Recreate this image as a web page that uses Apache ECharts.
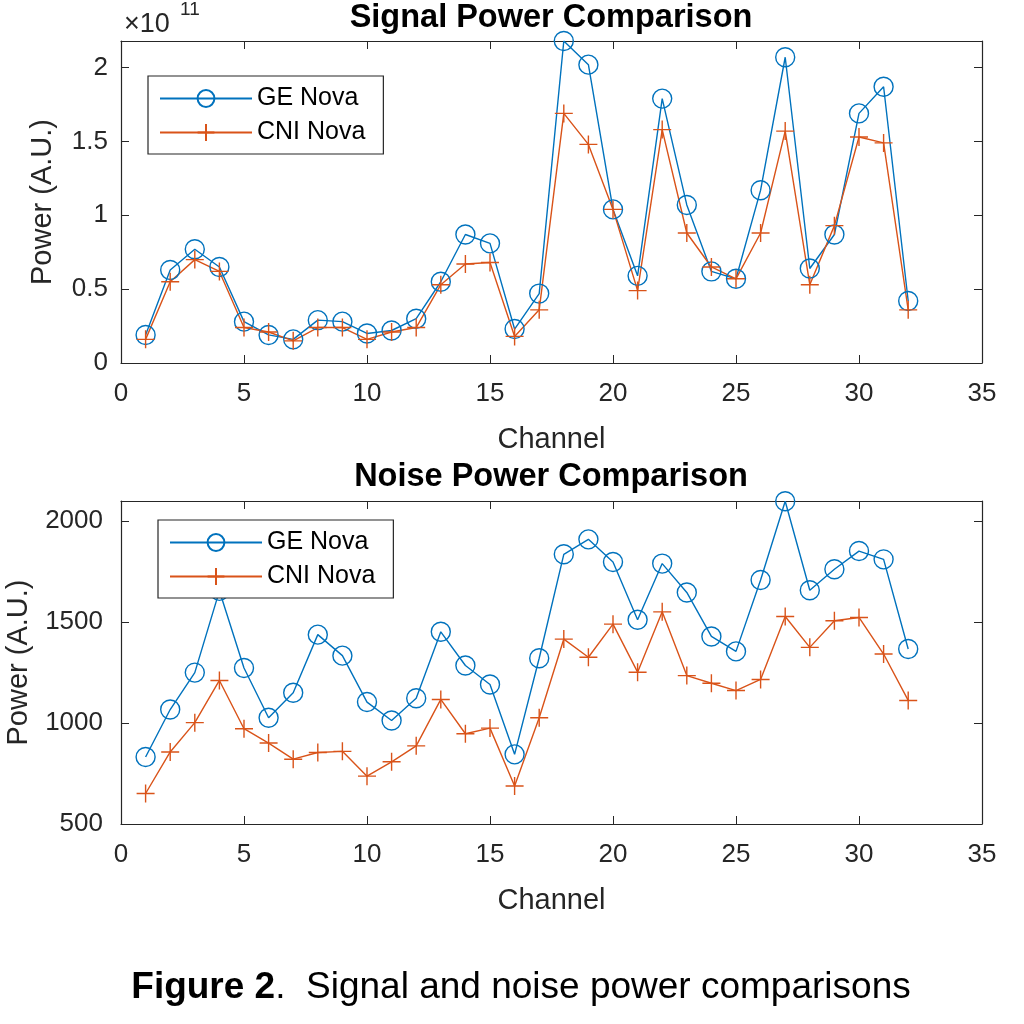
<!DOCTYPE html>
<html>
<head>
<meta charset="utf-8">
<script src="https://cdn.jsdelivr.net/npm/echarts@6/dist/echarts.min.js"></script>
<style>html,body{margin:0;padding:0;background:#fff;}#c{width:1024px;height:1024px;}</style>
</head>
<body>
<div id="c"></div>
<script>
// Channel numbers
const channels = [1,2,3,4,5,6,7,8,9,10,11,12,13,14,15,16,17,18,19,20,21,22,23,24,25,26,27,28,29,30,31,32];
// Signal power (A.U.), in units of 1e11
const signalScale = 1e11;
const signalGE  = [0.19,0.63,0.77,0.65,0.28,0.19,0.16,0.29,0.28,0.20,0.22,0.30,0.55,0.87,0.81,0.23,0.47,2.18,2.02,1.04,0.59,1.79,1.07,0.62,0.57,1.17,2.07,0.64,0.87,1.69,1.87,0.42];
const signalCNI = [0.16,0.55,0.70,0.62,0.24,0.21,0.15,0.24,0.24,0.16,0.21,0.24,0.53,0.67,0.68,0.18,0.36,1.69,1.48,1.04,0.49,1.58,0.88,0.65,0.57,0.88,1.57,0.53,0.93,1.53,1.49,0.36];
// Noise power (A.U.)
const noiseGE  = [832,1067,1250,1655,1273,1026,1150,1438,1334,1104,1013,1123,1452,1285,1191,845,1321,1836,1910,1798,1512,1790,1647,1429,1355,1709,2099,1658,1762,1852,1811,1367];
const noiseCNI = [651,857,1002,1211,972,901,821,854,860,737,808,887,1117,947,975,688,1026,1416,1326,1490,1252,1551,1235,1197,1161,1216,1528,1375,1507,1523,1342,1112];
const seriesNames = ['GE Nova', 'CNI Nova'];
const titles = ['Signal Power Comparison', 'Noise Power Comparison'];
const xLabel = 'Channel';
const yLabel = 'Power (A.U.)';

const FONT = "'Liberation Sans', Arial, Helvetica, sans-serif";
const BLUE = '#0072BD', ORANGE = '#D95319', AX = '#262626';
const plusPath = 'path://M5,0L5,10M0,5L10,5';

function pairs(xs, ys, k) { return xs.map((x, i) => [x, ys[i] * (k || 1)]); }

function tick() {
  return { show: true, inside: true, length: 8, lineStyle: { color: AX, width: 1 } };
}
function xAxes(gi) {
  const base = { gridIndex: gi, type: 'value', min: 0, max: 35, interval: 5,
    axisLine: { show: true, onZero: false, lineStyle: { color: AX, width: 1.2 } },
    splitLine: { show: false } };
  return [
    Object.assign({}, base, { position: 'bottom', axisTick: tick(), name: xLabel, nameLocation: 'middle', nameGap: 62,
      nameTextStyle: { fontFamily: FONT, fontSize: 29, color: AX },
      axisLabel: { fontFamily: FONT, fontSize: 26, color: AX, margin: 18 } }),
    Object.assign({}, base, { position: 'top', axisTick: tick(), axisLabel: { show: false } })
  ];
}
function yAxes(gi, min, max, interval, fmt, nameGap, margin) {
  const base = { gridIndex: gi, type: 'value', min: min, max: max, interval: interval,
    axisLine: { show: true, onZero: false, lineStyle: { color: AX, width: 1.2 } },
    splitLine: { show: false } };
  return [
    Object.assign({}, base, { position: 'left', axisTick: tick(), name: yLabel, nameLocation: 'middle', nameGap: nameGap, nameRotate: 90,
      nameTextStyle: { fontFamily: FONT, fontSize: 29, color: AX },
      axisLabel: { fontFamily: FONT, fontSize: 26, color: AX, margin: margin, showMaxLabel: false, formatter: fmt } }),
    Object.assign({}, base, { position: 'right', axisTick: tick(), axisLabel: { show: false } })
  ];
}
function lineSeries(name, data, xi, yi, color, sym, size) {
  return { name: name, type: 'line', xAxisIndex: xi, yAxisIndex: yi, data: data,
    symbol: sym, symbolSize: size, showSymbol: true, animation: false,
    lineStyle: { color: color, width: 1.4 },
    itemStyle: { color: 'none', borderColor: color, borderWidth: 1.4 },
    emphasis: { disabled: true } };
}
function legend(left, top) {
  return { left: left, top: top, orient: 'vertical', data: seriesNames,
    itemWidth: 92, itemHeight: 21, itemGap: 9,
    padding: [10, 18, 9, 11], borderColor: AX, borderWidth: 1.2, backgroundColor: '#fff',
    textStyle: { fontFamily: FONT, fontSize: 25, color: '#000' }, selectedMode: false };
}

const chart = echarts.init(document.getElementById('c'), null, { renderer: 'canvas' });
chart.setOption({
  backgroundColor: '#fff',
  animation: false,
  title: [
    { text: titles[0], left: 551, top: 2, textAlign: 'center', padding: 0,
      textStyle: { fontFamily: FONT, fontSize: 32.5, fontWeight: 'bold', color: '#000' } },
    { text: titles[1], left: 551, top: 461, textAlign: 'center', padding: 0,
      textStyle: { fontFamily: FONT, fontSize: 32.5, fontWeight: 'bold', color: '#000' } },
    { text: '{b|Figure 2}.  Signal and noise power comparisons', left: 521, top: 969, textAlign: 'center', padding: 0,
      textStyle: { fontFamily: FONT, fontSize: 37, fontWeight: 'normal', color: '#000',
        rich: { b: { fontFamily: FONT, fontSize: 37, fontWeight: 'bold', color: '#000' } } } }
  ],
  grid: [
    { left: 121, right: 42, top: 41, height: 322, containLabel: false, outerBoundsMode: 'none' },
    { left: 121, right: 42, top: 501, height: 323, containLabel: false, outerBoundsMode: 'none' }
  ],
  xAxis: xAxes(0).concat(xAxes(1)),
  yAxis: yAxes(0, 0, 2.18e11, 0.5e11, v => String(+(v / signalScale).toFixed(2)), 64, 13)
    .concat(yAxes(1, 500, 2100, 500, v => String(v), 88, 18)),
  legend: [legend(148, 76), legend(158, 520)],
  series: [
    lineSeries(seriesNames[0], pairs(channels, signalGE, signalScale), 0, 0, BLUE, 'circle', 19),
    lineSeries(seriesNames[1], pairs(channels, signalCNI, signalScale), 0, 0, ORANGE, plusPath, 18),
    lineSeries(seriesNames[0], pairs(channels, noiseGE), 2, 2, BLUE, 'circle', 19),
    lineSeries(seriesNames[1], pairs(channels, noiseCNI), 2, 2, ORANGE, plusPath, 18)
  ],
  graphic: [
    { type: 'text', left: 124, top: 11, style: { text: '×10', fontFamily: FONT, fontSize: 27, fill: AX } },
    { type: 'text', left: 180, top: 0, style: { text: '11', fontFamily: FONT, fontSize: 19, fill: AX } }
  ]
});
</script>
</body>
</html>
